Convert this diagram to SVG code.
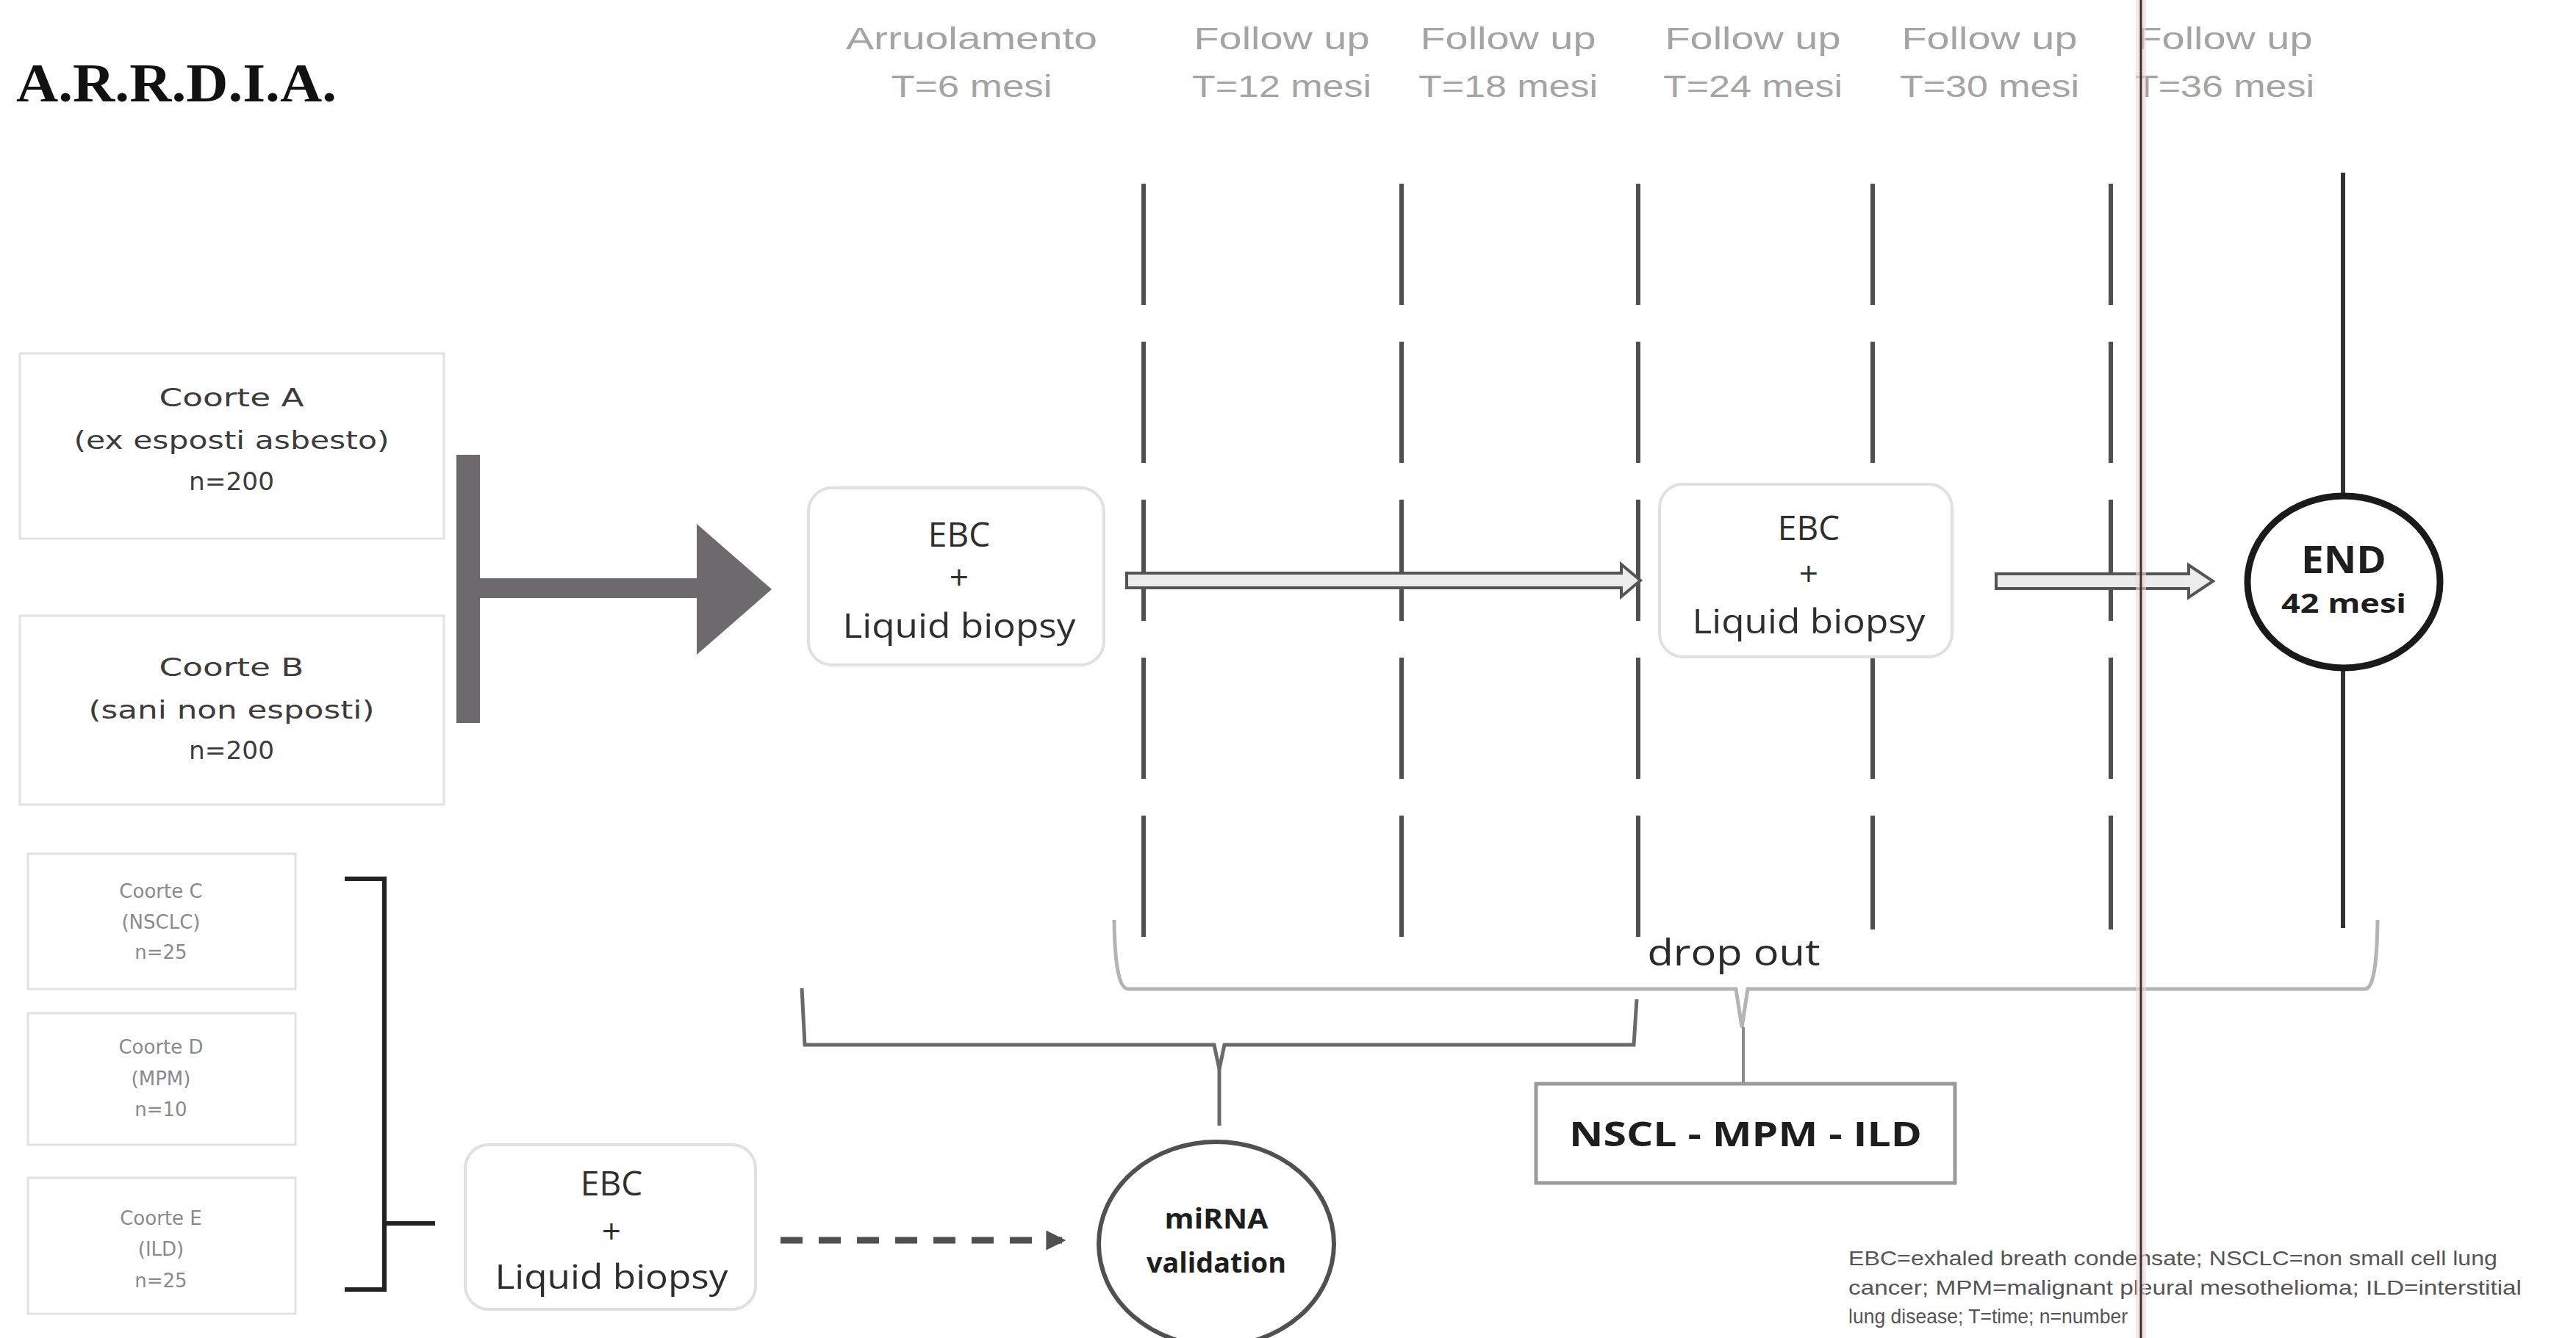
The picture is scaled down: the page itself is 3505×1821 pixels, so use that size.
<svg xmlns="http://www.w3.org/2000/svg" width="3505" height="1821" viewBox="0 0 3505 1821">
<style>
.hdr{font-family:"Liberation Sans",Arial,sans-serif;font-size:42px;fill:#a4a4a4;text-anchor:middle}
.coh{font-family:"DejaVu Sans","Liberation Sans",sans-serif;font-size:34px;fill:#3c3c3c;text-anchor:middle}
.sm{font-family:"DejaVu Sans","Liberation Sans",sans-serif;font-size:26px;fill:#8a8a8a;text-anchor:middle}
.ebc{font-family:"Open Sans","Liberation Sans",sans-serif;font-size:46px;fill:#2e2e2e;text-anchor:middle}
.bold{font-family:"Open Sans","Liberation Sans",sans-serif;font-weight:bold;fill:#1e1e1e;text-anchor:middle}
.foot{font-family:"Liberation Sans",Arial,sans-serif;font-size:28px;fill:#555}
.faint{fill:#fff;stroke:#e2e2e2;stroke-width:3}
.rbox{fill:#fff;stroke:#e0e0e0;stroke-width:4}
.vdash{stroke:#505050;stroke-width:6;stroke-dasharray:165 50;fill:none}
.br1{fill:none;stroke:#6a6a6a;stroke-width:5;stroke-linejoin:miter}
.br2{fill:none;stroke:#b4b4b4;stroke-width:5}
.hollow{fill:#ececec;stroke:#555;stroke-width:4;stroke-linejoin:miter}
</style>
<defs>
<marker id="ah" viewBox="0 0 10 10" refX="8" refY="5" markerWidth="3" markerHeight="3" orient="auto">
<path d="M0,0 L10,5 L0,10 Z" fill="#505050"/>
</marker>
</defs>
<rect width="3505" height="1821" fill="#fff"/>

<text x="22" y="138" font-family="Liberation Serif,Times New Roman,serif" font-weight="bold" font-size="75" fill="#111" textLength="436" lengthAdjust="spacingAndGlyphs">A.R.R.D.I.A.</text>

<g id="headers">
<text class="hdr" x="1322" y="67" textLength="342" lengthAdjust="spacingAndGlyphs">Arruolamento</text>
<text class="hdr" x="1322" y="132" textLength="219" lengthAdjust="spacingAndGlyphs">T=6 mesi</text>
<text class="hdr" x="1744" y="67" textLength="239" lengthAdjust="spacingAndGlyphs">Follow up</text>
<text class="hdr" x="1744" y="132" textLength="244" lengthAdjust="spacingAndGlyphs">T=12 mesi</text>
<text class="hdr" x="2052" y="67" textLength="239" lengthAdjust="spacingAndGlyphs">Follow up</text>
<text class="hdr" x="2052" y="132" textLength="244" lengthAdjust="spacingAndGlyphs">T=18 mesi</text>
<text class="hdr" x="2385" y="67" textLength="239" lengthAdjust="spacingAndGlyphs">Follow up</text>
<text class="hdr" x="2385" y="132" textLength="244" lengthAdjust="spacingAndGlyphs">T=24 mesi</text>
<text class="hdr" x="2707" y="67" textLength="239" lengthAdjust="spacingAndGlyphs">Follow up</text>
<text class="hdr" x="2707" y="132" textLength="244" lengthAdjust="spacingAndGlyphs">T=30 mesi</text>
<text class="hdr" x="3027" y="67" textLength="239" lengthAdjust="spacingAndGlyphs">Follow up</text>
<text class="hdr" x="3027" y="132" textLength="244" lengthAdjust="spacingAndGlyphs">T=36 mesi</text>
</g>

<g id="coorteA">
<rect class="faint" x="27" y="481" width="577" height="252"/>
<text class="coh" x="315" y="553" textLength="197" lengthAdjust="spacingAndGlyphs">Coorte A</text>
<text class="coh" x="315" y="611" textLength="429" lengthAdjust="spacingAndGlyphs">(ex esposti asbesto)</text>
<text class="coh" x="315" y="667" textLength="116" lengthAdjust="spacingAndGlyphs">n=200</text>
</g>
<g id="coorteB">
<rect class="faint" x="27" y="838" width="577" height="257"/>
<text class="coh" x="315" y="920" textLength="197" lengthAdjust="spacingAndGlyphs">Coorte B</text>
<text class="coh" x="315" y="978" textLength="389" lengthAdjust="spacingAndGlyphs">(sani non esposti)</text>
<text class="coh" x="315" y="1033" textLength="116" lengthAdjust="spacingAndGlyphs">n=200</text>
</g>
<g id="coorteC">
<rect class="faint" x="38" y="1162" width="364" height="184"/>
<text class="sm" x="219" y="1222">Coorte C</text>
<text class="sm" x="219" y="1264">(NSCLC)</text>
<text class="sm" x="219" y="1305">n=25</text>
</g>
<g id="coorteD">
<rect class="faint" x="38" y="1379" width="364" height="179"/>
<text class="sm" x="219" y="1434">Coorte D</text>
<text class="sm" x="219" y="1477">(MPM)</text>
<text class="sm" x="219" y="1519">n=10</text>
</g>
<g id="coorteE">
<rect class="faint" x="38" y="1603" width="364" height="185"/>
<text class="sm" x="219" y="1667">Coorte E</text>
<text class="sm" x="219" y="1709">(ILD)</text>
<text class="sm" x="219" y="1752">n=25</text>
</g>

<g id="connectors">
<line class="vdash" x1="1556" y1="250" x2="1556" y2="1275"/>
<line class="vdash" x1="1907" y1="250" x2="1907" y2="1275"/>
<line class="vdash" x1="2229" y1="250" x2="2229" y2="1275"/>
<line class="vdash" x1="2548" y1="250" x2="2548" y2="1265"/>
<line class="vdash" x1="2872" y1="250" x2="2872" y2="1265"/>
<line x1="3188" y1="235" x2="3188" y2="676" stroke="#333" stroke-width="6"/>
<line x1="3188" y1="908" x2="3188" y2="1263" stroke="#333" stroke-width="6"/>
<g fill="#6d696d">
<rect x="621" y="619" width="32" height="365"/>
<rect x="650" y="787" width="305" height="27"/>
<polygon points="948,713 1050,802 948,891"/>
</g>
<path class="hollow" d="M1533,780 H2206 V768 L2232,790 L2206,812 V800 H1533 Z"/>
<path class="hollow" d="M2716,781 H2978 V769 L3011,791 L2978,813 V801 H2716 Z"/>
<path d="M469,1196 H523 V1755 H469 M523,1665 H592" fill="none" stroke="#222" stroke-width="6"/>
<line x1="1062" y1="1688" x2="1445" y2="1688" stroke="#505050" stroke-width="9" stroke-dasharray="30 22" marker-end="url(#ah)"/>
<path class="br1" d="M1091,1345 L1095,1422 H1652 L1659,1455 L1666,1422 H2223 L2227,1360"/>
<line x1="1659" y1="1455" x2="1659" y2="1532" stroke="#6a6a6a" stroke-width="5"/>
<path class="br2" d="M1516,1252 Q1517,1346 1535,1346 H2362 L2370,1398 L2378,1346 H3218 Q3234,1346 3235,1252"/>
<line x1="2372" y1="1398" x2="2372" y2="1475" stroke="#8a8a8a" stroke-width="4"/>
<text x="2359" y="1314" font-family="Open Sans,Liberation Sans,sans-serif" font-size="50" fill="#2a2a2a" text-anchor="middle" textLength="235" lengthAdjust="spacingAndGlyphs">drop out</text>
</g>

<g id="ebc1">
<rect class="rbox" x="1100" y="664" width="402" height="241" rx="32"/>
<text class="ebc" x="1305" y="744">EBC</text>
<text class="ebc" x="1305" y="802">+</text>
<text class="ebc" x="1305" y="868" textLength="317" lengthAdjust="spacingAndGlyphs">Liquid biopsy</text>
</g>
<g id="ebc2">
<rect class="rbox" x="2258" y="659" width="398" height="235" rx="32"/>
<text class="ebc" x="2461" y="735">EBC</text>
<text class="ebc" x="2461" y="797">+</text>
<text class="ebc" x="2461" y="862" textLength="317" lengthAdjust="spacingAndGlyphs">Liquid biopsy</text>
</g>
<g id="ebc3">
<rect class="rbox" x="633" y="1558" width="395" height="224" rx="32"/>
<text class="ebc" x="832" y="1627">EBC</text>
<text class="ebc" x="832" y="1692">+</text>
<text class="ebc" x="832" y="1754" textLength="317" lengthAdjust="spacingAndGlyphs">Liquid biopsy</text>
</g>

<g id="end">
<ellipse cx="3189" cy="792" rx="131" ry="117" fill="#fff" stroke="#1a1a1a" stroke-width="9"/>
<text class="bold" x="3189" y="780" font-size="52" textLength="116" lengthAdjust="spacingAndGlyphs">END</text>
<text class="bold" x="3189" y="834" font-size="36" textLength="170" lengthAdjust="spacingAndGlyphs">42 mesi</text>
</g>

<g id="mirna">
<ellipse cx="1655" cy="1693" rx="160" ry="139" fill="#fff" stroke="#505050" stroke-width="6"/>
<text class="bold" x="1655" y="1672" font-size="38" textLength="141" lengthAdjust="spacingAndGlyphs">miRNA</text>
<text class="bold" x="1655" y="1732" font-size="38" textLength="190" lengthAdjust="spacingAndGlyphs">validation</text>
</g>

<g id="nscl">
<rect x="2090" y="1475" width="570" height="135" fill="#fff" stroke="#9a9a9a" stroke-width="5"/>
<text class="bold" x="2375" y="1560" font-size="46" textLength="480" lengthAdjust="spacingAndGlyphs">NSCL - MPM - ILD</text>
</g>

<g id="footnote">
<text class="foot" x="2515" y="1722" textLength="883" lengthAdjust="spacingAndGlyphs">EBC=exhaled breath condensate; NSCLC=non small cell lung</text>
<text class="foot" x="2515" y="1762" textLength="916" lengthAdjust="spacingAndGlyphs">cancer; MPM=malignant pleural mesothelioma; ILD=interstitial</text>
<text class="foot" x="2515" y="1801" textLength="380" lengthAdjust="spacingAndGlyphs">lung disease; T=time; n=number</text>
</g>

<g id="redline">
<rect x="2906" y="0" width="14" height="1821" fill="#f4d4d4" opacity="0.6"/>
<line x1="2913" y1="0" x2="2913" y2="1821" stroke="#333" stroke-width="3"/>
</g>
</svg>
